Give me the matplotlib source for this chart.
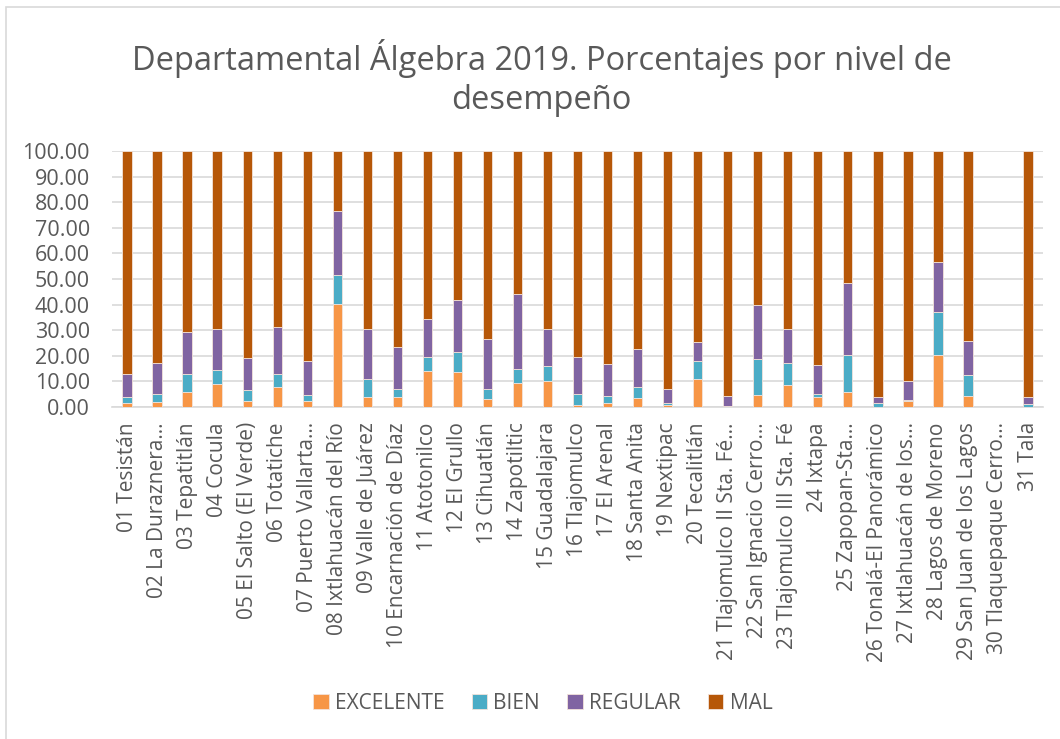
import matplotlib.pyplot as plt
import matplotlib.patches as patches
import numpy as np

plt.rcParams['font.family'] = ['Open Sans', 'DejaVu Sans']

escuelas = ['01 Tesistán', '02 La Duraznera…', '03 Tepatitlán', '04 Cocula',
            '05 El Salto (El Verde)', '06 Totatiche', '07 Puerto Vallarta…',
            '08 Ixtlahuacán del Río', '09 Valle de Juárez', '10 Encarnación de Díaz',
            '11 Atotonilco', '12 El Grullo', '13 Cihuatlán', '14 Zapotiltic',
            '15 Guadalajara', '16 Tlajomulco', '17 El Arenal', '18 Santa Anita',
            '19 Nextipac', '20 Tecalitlán', '21 Tlajomulco II Sta. Fé…',
            '22 San Ignacio Cerro…', '23 Tlajomulco III Sta. Fé', '24 Ixtapa',
            '25 Zapopan-Sta…', '26 Tonalá-El Panorámico', '27 Ixtlahuacán de los…',
            '28 Lagos de Moreno', '29 San Juan de los Lagos', '30 Tlaquepaque Cerro…',
            '31 Tala']

# porcentajes por nivel
excelente = [1.4, 2.1, 5.9, 9.0, 2.2, 7.7, 2.2, 40.4, 3.9, 3.9,
             14.0, 13.7, 3.0, 9.3, 10.0, 0.7, 1.6, 3.5, 0.8, 10.8,
             0.1, 4.6, 8.6, 4.0, 6.0, 0.1, 2.3, 20.3, 4.4, 0.0, 0.1]
bien = [2.3, 3.1, 7.1, 5.3, 4.3, 5.3, 2.6, 11.1, 7.2, 3.3,
        5.4, 7.8, 4.2, 5.7, 5.9, 4.5, 2.8, 4.2, 0.8, 7.3,
        0.3, 14.0, 8.5, 1.0, 14.3, 1.3, 0.3, 16.7, 8.2, 0.0, 0.9]
regular = [9.3, 12.1, 16.3, 16.1, 12.8, 18.3, 13.2, 24.9, 19.5, 16.3,
           14.9, 20.2, 19.5, 29.3, 14.7, 14.5, 12.2, 15.1, 5.6, 7.3,
           3.9, 21.3, 13.3, 11.3, 28.2, 2.6, 7.7, 19.5, 13.0, 0.0, 2.9]
mal = [100 - e - b - r if (e + b + r) > 0 else 0.0
       for e, b, r in zip(excelente, bien, regular)]

colores = ['#F79646', '#4BACC6', '#8064A2', '#B65708']
niveles = ['EXCELENTE', 'BIEN', 'REGULAR', 'MAL']
texto = '#595959'

fig = plt.figure(figsize=(10.6, 7.39), dpi=100)
ax = fig.add_axes([0.1057, 0.4493, 0.8783, 0.3464])

x = np.arange(len(escuelas))
fondo = np.zeros(len(escuelas))
for serie, color, nombre in zip([excelente, bien, regular, mal], colores, niveles):
    ax.bar(x, serie, 0.31, bottom=fondo, color=color, label=nombre,
           edgecolor='#F3E3DA', linewidth=0.6, zorder=3)
    fondo = fondo + np.array(serie)

ax.set_ylim(0, 100)
ax.set_xlim(-0.5, len(escuelas) - 0.5)
ax.set_yticks(np.arange(0, 101, 10))
ax.set_yticklabels(['%.2f' % v for v in np.arange(0, 101, 10)])
ax.set_xticks(x)
ax.set_xticklabels(escuelas, rotation=90)
ax.yaxis.grid(True, color='#D9D9D9', linewidth=1.2, zorder=0)
ax.tick_params(axis='y', length=0, pad=16, labelsize=15.5, labelcolor=texto)
ax.tick_params(axis='x', length=0, pad=11, labelsize=15, labelcolor=texto)
for lado in ['top', 'right', 'left']:
    ax.spines[lado].set_visible(False)
ax.spines['bottom'].set_color('#D9D9D9')
ax.spines['bottom'].set_linewidth(1.2)

fig.text(0.511, 0.894, 'Departamental Álgebra 2019. Porcentajes por nivel de\ndesempeño',
         ha='center', va='center', fontsize=23.5, color=texto, linespacing=1.25)

fig.legend(loc='center', bbox_to_anchor=(0.512, 0.048), ncol=4, frameon=False,
           fontsize=15, labelcolor=texto, handlelength=0.75, handleheight=0.75,
           handletextpad=0.3, columnspacing=1.3)

# marco del grafico
fig.patches.append(patches.Rectangle((6 / 1060, -0.1), 1.2, 1 - 7 / 739 + 0.1,
                                     transform=fig.transFigure, fill=False,
                                     edgecolor='#D9D9D9', linewidth=1.2))

plt.savefig('out.png', dpi=100)
